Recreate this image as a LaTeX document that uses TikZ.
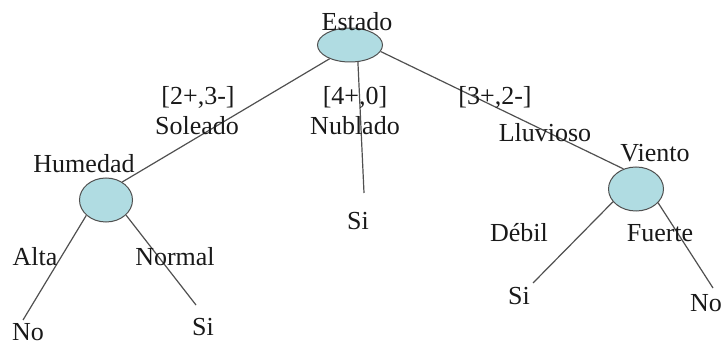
\documentclass[tikz,border=0pt]{standalone}
\usepackage{fontspec}
\setmainfont{Liberation Serif}
\usetikzlibrary{shapes.geometric}
\definecolor{attrfill}{RGB}{176,220,226}
\definecolor{edgegray}{RGB}{80,80,80}

\begin{document}
\begin{tikzpicture}[x=1pt, y=-1pt,
	every node/.style={font=\fontsize{26}{30}\selectfont, inner sep=0pt},
	attr/.style={ellipse, draw=edgegray, line width=1pt, fill=attrfill},
	txt/.style={anchor=base, text=black!90},
	branch/.style={draw=edgegray, line width=1.2pt}]
	\useasboundingbox (0,0) rectangle (723,347);
	% attribute nodes
	\node[attr, minimum width=65, minimum height=34] (estado) at (350,45) {};
	\node[attr, minimum width=53, minimum height=44] (humedad) at (106,200) {};
	\node[attr, minimum width=55, minimum height=44] (viento) at (636,189) {};
	\node[txt] (estadoT) at (357,31) {Estado};
	\node[txt] (humedadT) at (84,173) {Humedad};
	\node[txt] (vientoT) at (655,162) {Viento};
	% free ends of the branches
	\coordinate (nubE) at (364,193);
	\coordinate (altaE) at (23,320);
	\coordinate (normE) at (196,305);
	\coordinate (debE) at (533,283);
	\coordinate (fueE) at (713,288);
	% branches
	\draw[branch] (estado.214) -- (humedad.48);
	\draw[branch] (estado.-65) -- (nubE);
	\draw[branch] (estado.-12) -- (viento.122);
	\draw[branch] (humedad.218) -- (altaE);
	\draw[branch] (humedad.-37) -- (normE);
	\draw[branch] (viento.209) -- (debE);
	\draw[branch] (viento.-32) -- (fueE);
	% branch labels
	\node[txt] (cntSol) at (198,105) {[2+,3-]};
	\node[txt] (sol) at (197,135) {Soleado};
	\node[txt] (cntNub) at (355,105) {[4+,0]};
	\node[txt] (nub) at (355,135) {Nublado};
	\node[txt] (cntLlu) at (495,105) {[3+,2-]};
	\node[txt] (llu) at (545,142) {Lluvioso};
	\node[txt] (alta) at (35,266) {Alta};
	\node[txt] (normal) at (175,266) {Normal};
	\node[txt] (debil) at (519,242) {Débil};
	\node[txt] (fuerte) at (660,242) {Fuerte};
	% leaves
	\node[txt] (leafNub) at (358,230) {Si};
	\node[txt] (leafAlta) at (28,341) {No};
	\node[txt] (leafNorm) at (203,335) {Si};
	\node[txt] (leafDeb) at (519,305) {Si};
	\node[txt] (leafFue) at (706,312) {No};
\end{tikzpicture}
\end{document}
